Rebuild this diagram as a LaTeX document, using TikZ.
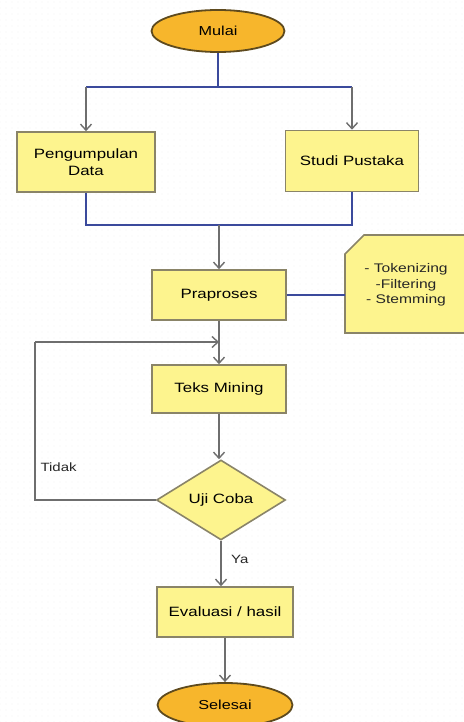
\documentclass[tikz,border=0pt]{standalone}
\usepackage{fontspec}
\setmainfont{Liberation Sans}[FakeStretch=1.25]
\usetikzlibrary{shapes.geometric,arrows.meta,patterns.meta}
\definecolor{boxfill}{HTML}{FDF48E}
\definecolor{boxline}{HTML}{8A8468}
\definecolor{ovalfill}{HTML}{F7B62C}
\definecolor{ovalline}{HTML}{5E4A1E}
\definecolor{blueline}{HTML}{3B4A9C}
\definecolor{grayline}{HTML}{6E6E6E}
\definecolor{bgdot}{HTML}{E6E6E6}
\tikzset{
  procbox/.style={rectangle, draw=boxline, fill=boxfill, line width=1.6pt, align=center, inner sep=2pt, font=\fontsize{13.5}{16.5}\selectfont},
  terminal/.style={ellipse, draw=ovalline, fill=ovalfill, line width=1.8pt, inner sep=0pt, minimum width=133pt, minimum height=42pt, font=\fontsize{13}{16}\selectfont},
  decision/.style={diamond, draw=boxline, fill=boxfill, line width=1.6pt, inner sep=0pt, aspect=1.6, minimum width=129pt, minimum height=80pt, font=\fontsize{13.5}{16.5}\selectfont},
  bline/.style={draw=blueline, line width=2pt},
  garrow/.style={draw=grayline, line width=1.8pt, -{Straight Barb[length=6pt,width=11pt,line width=1.4pt]}},
  gline/.style={draw=grayline, line width=1.8pt},
  lbl/.style={font=\fontsize{12}{14}\selectfont, text=black!85}
}
\begin{document}
\begin{tikzpicture}[x=1pt,y=-1pt]
\useasboundingbox (0,0) rectangle (463,722);
\fill[white] (0,0) rectangle (463,722);
\fill[pattern={Dots[distance=6pt,radius=0.45pt]}, pattern color=bgdot] (0,0) rectangle (463,722);

% nodes
\node[terminal] (mulai) at (218,31) {Mulai};
\node[procbox, minimum width=138pt, minimum height=60pt] (peng) at (86,162) {Pengumpulan\\Data};
\node[procbox, minimum width=133pt, minimum height=61pt] (studi) at (352,161) {Studi Pustaka};
\node[procbox, minimum width=134pt, minimum height=50pt] (prap) at (219,295) {Praproses};
\node[procbox, minimum width=134pt, minimum height=48pt] (teks) at (219,389) {Teks Mining};
\node[decision] (uji) at (221,500) {Uji Coba};
\node[procbox, minimum width=136pt, minimum height=50pt] (eval) at (225,612) {Evaluasi / hasil};
\node[terminal, minimum width=135pt, minimum height=44pt] (selesai) at (225,705) {Selesai};

% note shape
\draw[draw=boxline, fill=boxfill, line width=1.6pt] (345,254) -- (364,235) -- (475,235) -- (475,333) -- (345,333) -- cycle;
\node[lbl, align=center, font=\fontsize{12.5}{15.5}\selectfont] (note) at (406,285) {- Tokenizing\\-Filtering\\- Stemming};
\coordinate (noteW) at (345,295);

% split from Mulai
\coordinate (sL) at (peng.north |- 0,87);
\coordinate (sR) at (studi.north |- 0,87);
\coordinate (sM) at (mulai.south |- 0,87);
\draw[bline] (mulai.south) -- (sM);
\draw[bline] (sL) -- (sR);
\draw[garrow] (sL) -- (peng.north);
\draw[garrow] (sR) -- (studi.north);

% merge
\coordinate (mL) at (peng.south |- 0,225);
\coordinate (mR) at (studi.south |- 0,225);
\coordinate (mM) at (prap.north |- 0,225);
\draw[bline] (peng.south) -- (mL) -- (mR) -- (studi.south);
\draw[garrow] (mM) -- (prap.north);

% note link
\draw[bline] (prap.east) -- (noteW);

% main flow
\draw[garrow] (prap.south) -- (teks.north);
\draw[garrow] (teks.south) -- (teks.south |- uji.north);
\draw[garrow] (uji.south) -- node[lbl, right, pos=0.4, xshift=6pt] {Ya} (uji.south |- eval.north);
\draw[garrow] (eval.south) -- (selesai.north);

% feedback loop
\coordinate (fbA) at (35,500);
\coordinate (fbB) at (35,342);
\coordinate (fbC) at (prap.south |- 0,342);
\draw[gline] (uji.west) -- (fbA) -- (fbB);
\draw[garrow] (fbB) -- (fbC);
\node[lbl, anchor=west] (tidak) at (37,467) {Tidak};
\end{tikzpicture}
\end{document}
